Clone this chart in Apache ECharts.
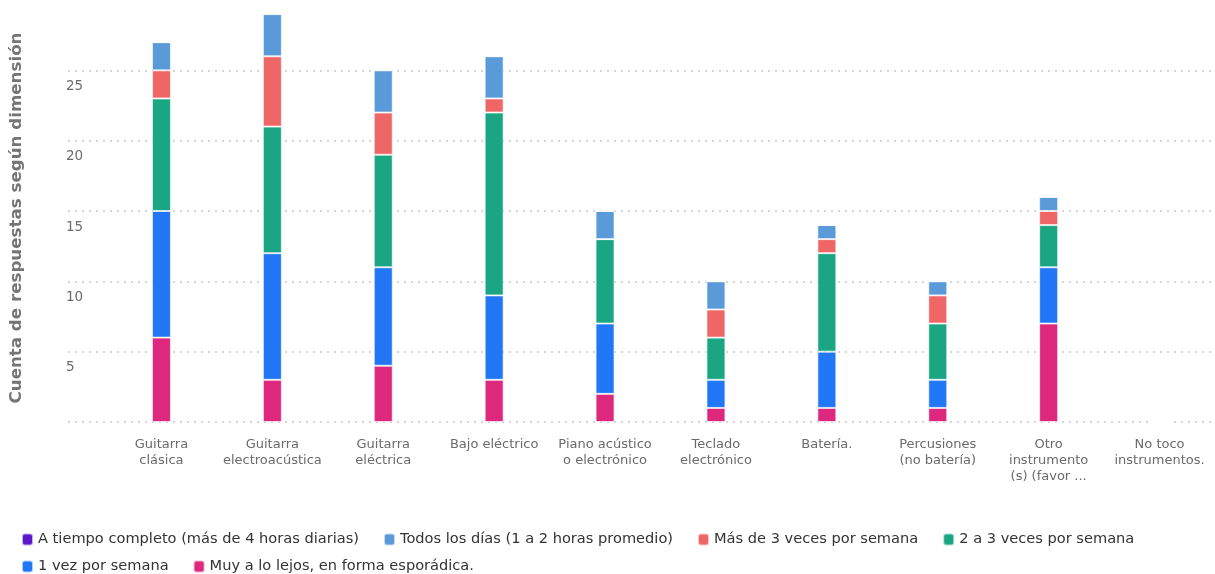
<!DOCTYPE html>
<html>
<head>
<meta charset="utf-8">
<script src="https://cdn.jsdelivr.net/npm/echarts@6/dist/echarts.min.js"></script>
<style>
  html, body { margin: 0; padding: 0; background: #fff; }
  #chart { width: 1215px; height: 574px; }
</style>
</head>
<body>
<div id="chart"></div>
<script>
// Instruments (x-axis) and the label text shown under each bar
const categories = [
  'Guitarra clásica', 'Guitarra electroacústica', 'Guitarra eléctrica', 'Bajo eléctrico',
  'Piano acústico o electrónico', 'Teclado electrónico', 'Batería.', 'Percusiones (no batería)',
  'Otro instrumento (s) (favor ...', 'No toco instrumentos.'
];
const tickLabels = [
  'Guitarra\nclásica', 'Guitarra\nelectroacústica', 'Guitarra\neléctrica', 'Bajo eléctrico',
  'Piano acústico\no electrónico', 'Teclado\nelectrónico', 'Batería.', 'Percusiones\n(no batería)',
  'Otro\ninstrumento\n(s) (favor ...', 'No toco\ninstrumentos.'
];

// Response counts per practice frequency
const muyLejos      = [6, 3, 4, 3, 2, 1, 1, 1, 7, 0];
const unaVez        = [9, 9, 7, 6, 5, 2, 4, 2, 4, 0];
const dosATres      = [8, 9, 8, 13, 6, 3, 7, 4, 3, 0];
const masDeTres     = [2, 5, 3, 1, 0, 2, 1, 2, 1, 0];
const todosLosDias  = [2, 3, 3, 3, 2, 2, 1, 1, 1, 0];
const tiempoCompleto = [0, 0, 0, 0, 0, 0, 0, 0, 0, 0];

const yTicks = [0, 5, 10, 15, 20, 25];

const names = {
  tc: 'A tiempo completo (más de 4 horas diarias)',
  td: 'Todos los días (1 a 2 horas promedio)',
  m3: 'Más de 3 veces por semana',
  d3: '2 a 3 veces por semana',
  uv: '1 vez por semana',
  ml: 'Muy a lo lejos, en forma esporádica.'
};

const FONT = '"DejaVu Sans", sans-serif';
const Y_MAX = 30;

function barSeries(name, data, color) {
  return {
    name: name,
    type: 'bar',
    stack: 'total',
    xAxisIndex: 1,
    yAxisIndex: 1,
    barWidth: 19,
    data: data,
    itemStyle: { color: color, borderColor: 'rgba(255,255,255,0.65)', borderWidth: 1 }
  };
}

const chart = echarts.init(document.getElementById('chart'), null, { renderer: 'canvas' });
chart.setOption({
  animation: false,
  backgroundColor: '#ffffff',
  grid: [
    // full-width grid that carries the y-axis gridlines and labels
    { left: 65, right: 0, top: 0, height: 422 },
    // grid holding the category bands
    { left: 106, width: 1110, top: 0, height: 422 }
  ],
  xAxis: [
    { gridIndex: 0, type: 'value', show: false, min: 0, max: 1 },
    {
      gridIndex: 1,
      type: 'category',
      data: categories,
      axisLine: { show: false },
      axisTick: { show: false },
      axisLabel: {
        interval: 0,
        margin: 15,
        color: '#6b6b6b',
        fontFamily: FONT,
        fontSize: 13,
        lineHeight: 16,
        formatter: function (v, i) { return tickLabels[i]; }
      }
    }
  ],
  yAxis: [
    {
      gridIndex: 0,
      type: 'value',
      min: yTicks[0],
      max: Y_MAX,
      interval: yTicks[1] - yTicks[0],
      name: 'Cuenta de respuestas según dimensión',
      nameLocation: 'middle',
      nameGap: 43,
      nameTextStyle: {
        color: '#757575',
        fontFamily: FONT,
        fontSize: 16.7,
        fontWeight: 'bold',
        padding: [0, 14, 0, 0]
      },
      axisLine: { show: false },
      axisTick: { show: false },
      axisLabel: {
        inside: true,
        margin: -2,
        color: '#6b6b6b',
        fontFamily: FONT,
        fontSize: 13.5,
        verticalAlign: 'top',
        padding: [9, 0, 0, 0],
        showMinLabel: false,
        showMaxLabel: false
      },
      splitLine: {
        show: true,
        showMinLine: true,
        showMaxLine: false,
        lineStyle: { color: '#d6d6d6', type: [2, 5], width: 2 }
      }
    },
    {
      gridIndex: 1,
      type: 'value',
      min: yTicks[0],
      max: Y_MAX,
      show: false,
      splitLine: { show: false }
    }
  ],
  legend: {
    left: 16,
    top: 526,
    width: 1150,
    orient: 'horizontal',
    icon: 'roundRect',
    itemWidth: 11,
    itemHeight: 12,
    itemGap: 10,
    textStyle: {
      color: '#333', fontFamily: FONT, fontSize: 14.6, lineHeight: 17,
      padding: [0, 14, 0, 0]
    },
    data: [names.tc, names.td, names.m3, names.d3, names.uv, names.ml]
  },
  series: [
    barSeries(names.ml, muyLejos, '#dd287e'),
    barSeries(names.uv, unaVez, '#2277f7'),
    barSeries(names.d3, dosATres, '#1aa682'),
    barSeries(names.m3, masDeTres, '#ee6666'),
    barSeries(names.td, todosLosDias, '#5a9ad9'),
    barSeries(names.tc, tiempoCompleto, '#5b17c9')
  ]
});
</script>
</body>
</html>
